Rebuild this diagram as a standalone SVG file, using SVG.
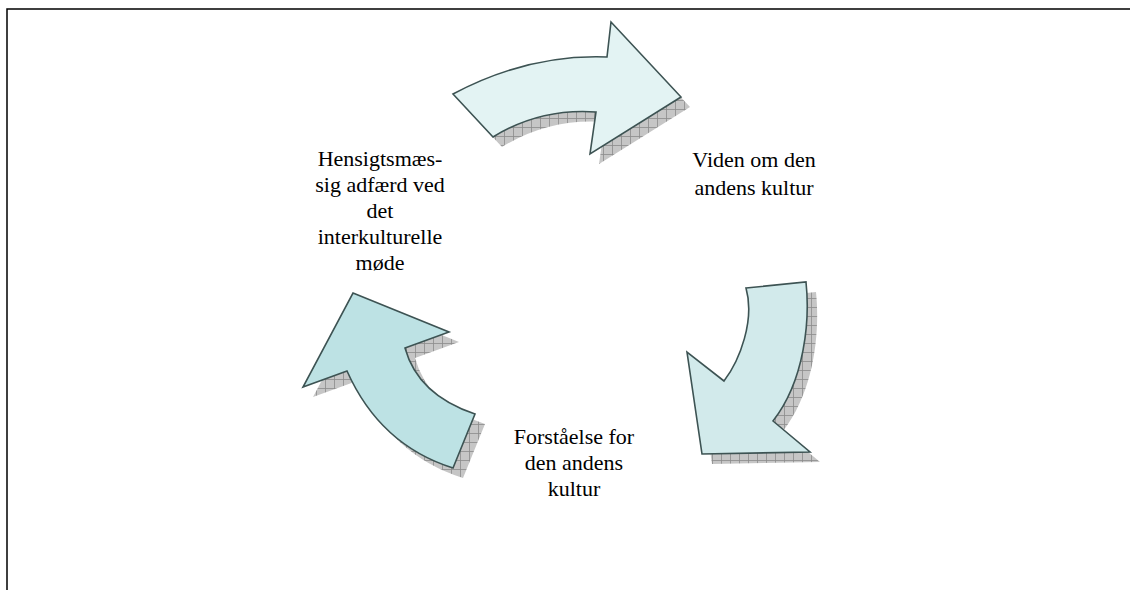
<svg xmlns="http://www.w3.org/2000/svg" width="1130" height="590" viewBox="0 0 1130 590">
<style>
.lbl{font-family:"Liberation Serif","Times New Roman",serif;font-size:22px;fill:#000;text-anchor:middle}
.arr{stroke:#3d5353;stroke-width:1.6;stroke-linejoin:miter}
.shd{fill:url(#hatch);stroke:none}
.frame{stroke:#000;stroke-width:1.5;fill:none}
</style>
<defs>
<pattern id="hatch" width="9" height="9" patternUnits="userSpaceOnUse">
<rect width="9" height="9" fill="#c6c6c6"/>
<path d="M0 0.5H9M0.5 0V9" stroke="#8c8c8c" stroke-width="0.8"/>
</pattern>
<path id="pTop" d="M453,94 Q528,54 607,57 L611,22 L681,97 L590,154 L596,112 Q540,108 493,137 Z"/>
<path id="pRight" d="M746,288 L806,282 C810,320 805,380 773,421 L810,452 L702,454 L687,352 L724,381 C740,360 755,320 746,288 Z"/>
<path id="pLeft" d="M353,293 L449,332 L405,348 Q418,395 475,414 L453,468 Q380,445 347,371 L303,387 Z"/>
</defs>
<rect width="1130" height="590" fill="#fff"/>
<path class="frame" d="M7,590 V9 H1130"/>
<g id="connectors">
<g id="arrow-top">
<use href="#pTop" class="shd" transform="translate(9,10)"/>
<use href="#pTop" class="arr" fill="#e3f3f3"/>
</g>
<g id="arrow-right">
<use href="#pRight" class="shd" transform="translate(10,10)"/>
<use href="#pRight" class="arr" fill="#d2eaeb"/>
</g>
<g id="arrow-left">
<use href="#pLeft" class="shd" transform="translate(10,10)"/>
<use href="#pLeft" class="arr" fill="#bde2e4"/>
</g>
</g>
<g id="node-adfaerd">
<text class="lbl" x="380" y="166">Hensigtsmæs-</text>
<text class="lbl" x="380" y="192">sig adfærd ved</text>
<text class="lbl" x="380" y="218">det</text>
<text class="lbl" x="380" y="244">interkulturelle</text>
<text class="lbl" x="380" y="270">møde</text>
</g>
<g id="node-viden">
<text class="lbl" x="754" y="167">Viden om den</text>
<text class="lbl" x="754" y="195">andens kultur</text>
</g>
<g id="node-forstaaelse">
<text class="lbl" x="574" y="444">Forståelse for</text>
<text class="lbl" x="574" y="470">den andens</text>
<text class="lbl" x="574" y="496">kultur</text>
</g>
</svg>
